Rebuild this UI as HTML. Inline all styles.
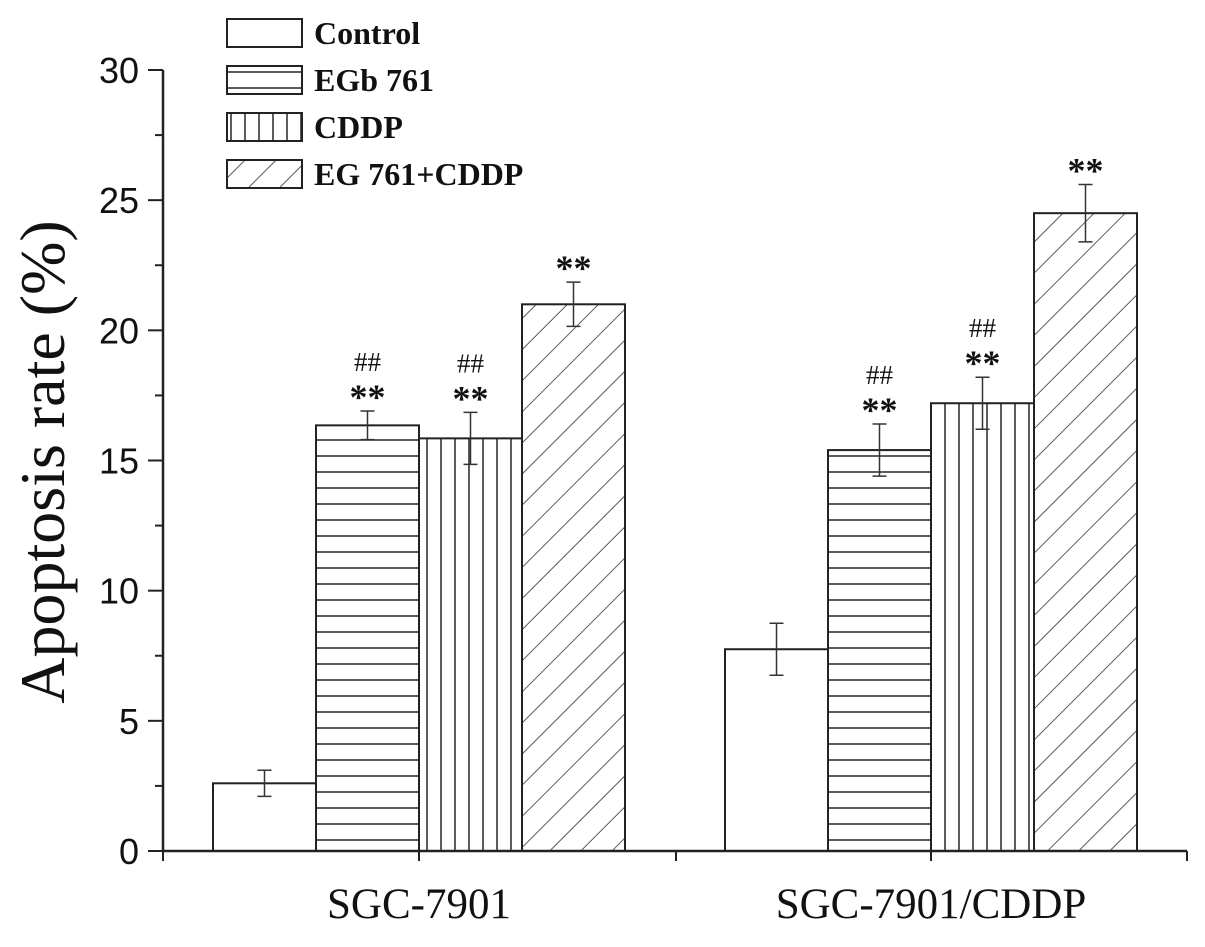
<!DOCTYPE html>
<html><head><meta charset="utf-8"><style>
html,body{margin:0;padding:0;background:#fff}
svg{display:block}
</style></head><body>
<svg id="chart" width="1205" height="947" viewBox="0 0 1205 947" xmlns="http://www.w3.org/2000/svg">
<defs>
<pattern id="p-h" width="10" height="16" patternUnits="userSpaceOnUse"><line x1="0" y1="8" x2="10" y2="8" stroke="#333" stroke-width="1.6"/></pattern>
<pattern id="p-v" width="14" height="10" patternUnits="userSpaceOnUse"><line x1="7" y1="0" x2="7" y2="10" stroke="#333" stroke-width="1.6"/></pattern>
<pattern id="p-d" width="22" height="22" patternUnits="userSpaceOnUse" patternTransform="rotate(45)"><line x1="0" y1="0" x2="0" y2="22" stroke="#333" stroke-width="1.6"/></pattern>
</defs>
<g id="plot"></g>
</svg>
<script>
const groups = ["SGC-7901", "SGC-7901/CDDP"];
const seriesNames = ["Control", "EGb 761", "CDDP", "EG 761+CDDP"];
const ctrlVals = [2.6, 7.75];
const egbVals = [16.35, 15.4];
const cddpVals = [15.85, 17.2];
const comboVals = [21.0, 24.5];
const ctrlErr = [0.5, 1.0];
const egbErr = [0.55, 1.0];
const cddpErr = [1.0, 1.0];
const comboErr = [0.85, 1.1];
const starLabels = [["", "**", "**", "**"], ["", "**", "**", "**"]];
const hashLabels = [["", "##", "##", ""], ["", "##", "##", ""]];
const yTicks = [0, 5, 10, 15, 20, 25, 30];

const svg = document.getElementById('plot');
const NS = "http://www.w3.org/2000/svg";
const y0 = 851, yTop = 70, yMax = 30, axX = 163, axRight = 1187;
const y = v => y0 - (v / yMax) * (y0 - yTop);
const groupCenter = i => 419 + i * 512;
const barW = 103;
const fills = ["#fff", "url(#p-h)", "url(#p-v)", "url(#p-d)"];
const vals = [ctrlVals, egbVals, cddpVals, comboVals];
const errs = [ctrlErr, egbErr, cddpErr, comboErr];
function mk(tag, attrs, text) {
  const e = document.createElementNS(NS, tag);
  for (const k in attrs) e.setAttribute(k, attrs[k]);
  if (text !== undefined) e.textContent = text;
  svg.appendChild(e);
  return e;
}
groups.forEach((g, gi) => {
  seriesNames.forEach((s, si) => {
    const x = groupCenter(gi) - 2 * barW + si * barW;
    const v = vals[si][gi];
    const r = mk('rect', {x: x, y: y(v), width: barW, height: y0 - y(v), fill: fills[si], stroke: '#222', 'stroke-width': 2});
    
    
    const cx = x + barW / 2, e = errs[si][gi];
    const eb = mk('path', {d: `M${cx},${y(v+e)}V${y(v-e)}M${cx-7},${y(v+e)}H${cx+7}M${cx-7},${y(v-e)}H${cx+7}`, stroke: '#333', 'stroke-width': 1.5, fill: 'none'});
    
    
    if (starLabels[gi][si]) {
      const t = mk('text', {x: cx, y: y(v + e) - 2, 'text-anchor': 'middle', 'font-family': 'Liberation Serif, serif', 'font-size': 36, 'font-weight': 'bold', fill: '#111'}, starLabels[gi][si]);
      
      
    }
    if (hashLabels[gi][si]) {
      const t = mk('text', {x: cx, y: y(v + e) - 40, 'text-anchor': 'middle', 'font-family': 'Liberation Serif, serif', 'font-size': 27, fill: '#111'}, hashLabels[gi][si]);
      
      
    }
  });
  const gl = mk('text', {x: groupCenter(gi), y: 918, 'text-anchor': 'middle', 'font-family': 'Liberation Serif, serif', 'font-size': 43, fill: '#111'}, g);
  
  
});
const ax = mk('path', {d: `M${axX},${yTop}V${y0}M${axX},${y0}H${axRight}`, stroke: '#222', 'stroke-width': 2.5, fill: 'none'});


yTicks.forEach(t => {
  const tk = mk('line', {x1: axX - 15, x2: axX, y1: y(t), y2: y(t), stroke: '#222', 'stroke-width': 2});
  
  
  if (t < yMax) {
    const m = mk('line', {x1: axX - 8, x2: axX, y1: y(t + 2.5), y2: y(t + 2.5), stroke: '#222', 'stroke-width': 2});
    
    
  }
  const lb = mk('text', {x: axX - 24, y: y(t) + 13, 'text-anchor': 'end', 'font-family': 'Liberation Sans, sans-serif', 'font-size': 36, fill: '#111'}, String(t));
  
  
});
[163, 419, 676, 931, 1187].forEach(x => {
  const tk = mk('line', {x1: x, x2: x, y1: y0, y2: y0 + 10, stroke: '#222', 'stroke-width': 2});
  
  
});
const yt = mk('text', {x: 0, y: 0, transform: 'translate(64,462) rotate(-90)', 'text-anchor': 'middle', 'font-family': 'Liberation Serif, serif', 'font-size': 64, fill: '#111'}, 'Apoptosis rate (%)');


seriesNames.forEach((s, si) => {
  const ly = 19 + si * 47;
  const b = mk('rect', {x: 227, y: ly, width: 75, height: 28, fill: fills[si], stroke: '#222', 'stroke-width': 2});
  
  
  const t = mk('text', {x: 314, y: ly + 25, 'font-family': 'Liberation Serif, serif', 'font-size': 32, 'font-weight': 'bold', fill: '#111'}, s);
  
  
});
</script>
</body></html>
